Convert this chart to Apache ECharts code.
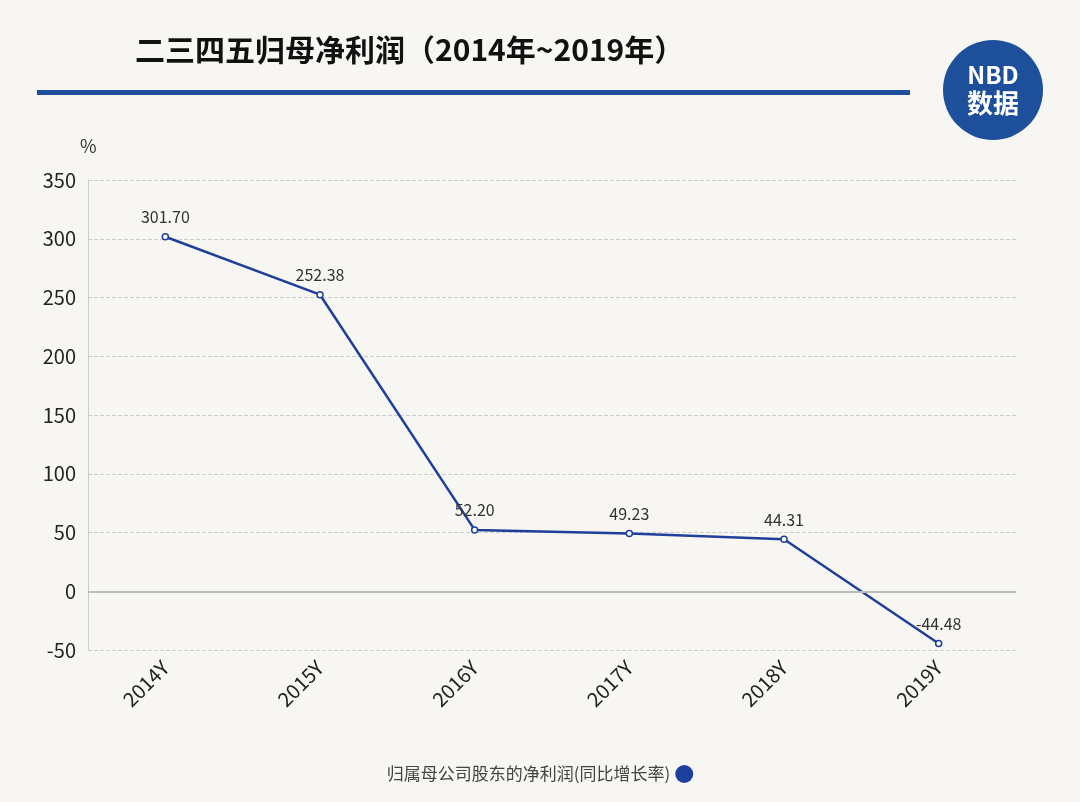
<!DOCTYPE html>
<html><head><meta charset="utf-8">
<script src="https://cdn.jsdelivr.net/npm/echarts@6/dist/echarts.min.js"></script>
<style>html,body{margin:0;padding:0;background:#f8f6f2}#c{width:1080px;height:802px}</style>
</head><body><div id="c"></div>
<script>
const categories = ['2014Y','2015Y','2016Y','2017Y','2018Y','2019Y'];
const values = [301.70, 252.38, 52.20, 49.23, 44.31, -44.48];
const seriesName = '归属母公司股东的净利润(同比增长率)';
const chart = echarts.init(document.getElementById('c'));
chart.setOption({
  backgroundColor: '#f8f6f2',
  textStyle: {fontFamily: 'Noto Sans CJK SC'},
  graphic: [
    {type:'text', left:135, top:35, style:{text:'二三四五归母净利润（2014年~2019年）', font:'bold 30px "Noto Sans CJK SC"', fill:'#111'}},
    {type:'rect', shape:{x:37,y:90,width:873,height:5}, style:{fill:'#1f4e9c'}},
    {type:'circle', shape:{cx:993,cy:90,r:50}, style:{fill:'#1d4f9b'}},
    {type:'text', x:993, y:75, style:{text:'NBD', font:'bold 24px "Noto Sans CJK SC"', fill:'#fff', align:'center', verticalAlign:'middle'}},
    {type:'text', x:993, y:103, style:{text:'数据', font:'bold 26px "Noto Sans CJK SC"', fill:'#fff', align:'center', verticalAlign:'middle'}},
    {type:'text', left:80, top:137, style:{text:'%', font:'18px "Noto Sans CJK SC"', fill:'#333'}}
  ],
  grid: {left:88, right:64, top:180, bottom:152, containLabel:false},
  legend: {bottom:14, left:'center', icon:'circle', align:'right', itemWidth:18, itemHeight:18,
    itemStyle:{color:'#1f3f9c', borderWidth:0},
    textStyle:{fontSize:17, color:'#444'}, data:[seriesName]},
  xAxis: {type:'category', data:categories, boundaryGap:true,
    axisLine:{show:false}, axisTick:{show:false},
    axisLabel:{rotate:45, fontSize:20, color:'#222', margin:14}},
  yAxis: {type:'value', min:-50, max:350, interval:50,
    axisLine:{show:true, lineStyle:{color:'#ccc'}}, axisTick:{show:false},
    axisLabel:{fontSize:20, color:'#222', margin:12},
    splitLine:{lineStyle:{type:'dashed', color:'#ccc'}}},
  series: [{
    name: seriesName, type:'line', data:values,
    symbol:'circle', symbolSize:6, color:'#1f3f9c',
    lineStyle:{width:2.5, color:'#1f3f9c'},
    itemStyle:{color:'#fff', borderColor:'#1f3f9c', borderWidth:1.5},
    label:{show:true, position:'top', fontSize:16, color:'#333', distance:8,
      formatter:p=>p.value.toFixed(2)},
    markLine:{silent:true, symbol:'none', label:{show:false},
      lineStyle:{type:'solid', color:'#bbb', width:2}, data:[{yAxis:0}]}
  }]
});
</script></body></html>
